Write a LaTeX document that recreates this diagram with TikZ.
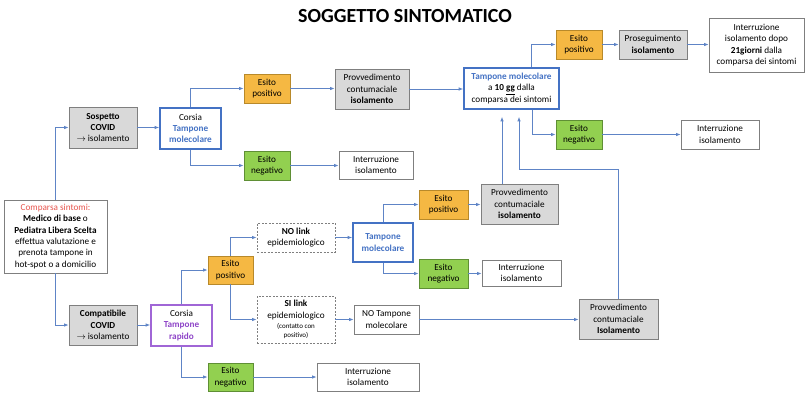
\documentclass[tikz,border=0pt]{standalone}
\usepackage{fontspec}
\setmainfont{Carlito}
\usetikzlibrary{arrows.meta}
\definecolor{lineblue}{HTML}{5E84C6}
\definecolor{boxblue}{HTML}{4472C4}
\definecolor{txtblue}{HTML}{4472C4}
\definecolor{boxpurple}{HTML}{A066D6}
\definecolor{txtpurple}{HTML}{8E44C8}
\definecolor{txtred}{HTML}{E8554E}
\definecolor{orfill}{HTML}{F5B843}
\definecolor{ordraw}{HTML}{B8892A}
\definecolor{grfill}{HTML}{92D050}
\definecolor{grdraw}{HTML}{5F8F35}
\definecolor{gyfill}{HTML}{D9D9D9}
\definecolor{gydraw}{HTML}{7F7F7F}
\tikzset{
  base/.style={draw=gydraw, line width=0.8pt, align=center, inner sep=0pt,
    font=\fontsize{9.2}{11.3}\selectfont, text=black},
  graybox/.style={base, fill=gyfill},
  whitebox/.style={base, fill=white},
  orbox/.style={base, fill=orfill, draw=ordraw},
  grbox/.style={base, fill=grfill, draw=grdraw},
  bluebox/.style={base, fill=white, draw=boxblue, line width=1.7pt},
  purplebox/.style={base, fill=white, draw=boxpurple, line width=1.7pt},
  dashbox/.style={base, fill=white, dash pattern=on 2pt off 1.5pt},
  sz/.style 2 args={minimum width=#1, minimum height=#2},
  arr/.style={draw=lineblue, line width=0.8pt, -{Latex[length=4.5pt,width=3.5pt]}},
}
\begin{document}
\begin{tikzpicture}[x=1pt,y=-1pt]
\useasboundingbox[fill=white] (0,0) rectangle (810,400);
\node (title) at (405,16) {\fontsize{20}{23}\selectfont\bfseries SOGGETTO SINTOMATICO};

% left column
\node[whitebox, sz={103pt}{73pt}] (comp) at (55.5,236.5) {\textcolor{txtred}{Comparsa sintomi:}\\\textbf{Medico di base} o\\\textbf{Pediatra Libera Scelta}\\effettua valutazione e\\prenota tampone in\\hot-spot o a domicilio};
\node[graybox, sz={68pt}{41pt}] (sosp) at (103,127.5) {\textbf{Sospetto}\\\textbf{COVID}\\$\rightarrow$ isolamento};
\node[graybox, sz={68pt}{40pt}] (compat) at (103,325) {\textbf{Compatibile}\\\textbf{COVID}\\$\rightarrow$ isolamento};

% upper branch
\node[bluebox, sz={61pt}{41pt}] (corsM) at (190.5,128.5) {Corsia\\\textcolor{txtblue}{\textbf{Tampone}}\\\textcolor{txtblue}{\textbf{molecolare}}};
\node[orbox, sz={46pt}{29pt}] (posA) at (267,88.5) {Esito\\positivo};
\node[grbox, sz={46pt}{29pt}] (negA) at (267,165.5) {Esito\\negativo};
\node[graybox, sz={74pt}{40pt}] (provA) at (372,89) {Provvedimento\\contumaciale\\\textbf{isolamento}};
\node[whitebox, sz={74pt}{28pt}] (intA) at (376,165) {Interruzione\\isolamento};
\node[bluebox, sz={95pt}{41pt}] (tm10) at (511.5,88.5) {\textcolor{txtblue}{\textbf{Tampone molecolare}}\\a \textbf{10 \underline{gg}} dalla\\comparsa dei sintomi};
\node[orbox, sz={46pt}{29pt}] (posB) at (579,44.5) {Esito\\positivo};
\node[graybox, sz={68pt}{29pt}] (prosB) at (653,44.5) {Proseguimento\\\textbf{isolamento}};
\node[whitebox, sz={95pt}{54pt}] (int21) at (756.5,45) {Interruzione\\isolamento dopo\\\textbf{21giorni} dalla\\comparsa dei sintomi};
\node[grbox, sz={46pt}{29pt}] (negB) at (579,134.5) {Esito\\negativo};
\node[whitebox, sz={78pt}{29pt}] (intB) at (720,134.5) {Interruzione\\isolamento};

% lower branch
\node[purplebox, sz={61pt}{41pt}] (corsR) at (181.5,325.5) {Corsia\\\textcolor{txtpurple}{\textbf{Tampone}}\\\textcolor{txtpurple}{\textbf{rapido}}};
\node[orbox, sz={45pt}{28pt}] (posC) at (230.5,270) {Esito\\positivo};
\node[grbox, sz={45pt}{28pt}] (negC) at (230.5,377) {Esito\\negativo};
\node[whitebox, sz={102pt}{28pt}] (intC) at (368,377) {Interruzione\\isolamento};
\node[dashbox, sz={78pt}{29pt}] (nolink) at (296,237.5) {\textbf{NO link}\\epidemiologico};
\node[dashbox, sz={78pt}{47pt}] (silink) at (296,319.5) {\textbf{SI link}\\epidemiologico\\[-1pt]{\fontsize{7}{8.5}\selectfont (contatto con}\\[-2pt]{\fontsize{7}{8.5}\selectfont positivo)}};
\node[bluebox, sz={60pt}{39pt}] (tmM) at (383,242.5) {\textcolor{txtblue}{\textbf{Tampone}}\\\textcolor{txtblue}{\textbf{molecolare}}};
\node[whitebox, sz={65pt}{29pt}] (notamp) at (386.5,319.5) {NO Tampone\\molecolare};
\node[orbox, sz={49pt}{29pt}] (posD) at (443.5,204.5) {Esito\\positivo};
\node[grbox, sz={49pt}{29pt}] (negD) at (443.5,273.5) {Esito\\negativo};
\node[graybox, sz={77pt}{40pt}] (provD) at (519.5,204) {Provvedimento\\contumaciale\\\textbf{isolamento}};
\node[whitebox, sz={79pt}{26pt}] (intD) at (521.5,273) {Interruzione\\isolamento};
\node[graybox, sz={79pt}{40pt}] (provE) at (618.5,319) {Provvedimento\\contumaciale\\\textbf{Isolamento}};

\coordinate (xa) at (502,0);
\coordinate (bend) at (519,169);

% connectors
\draw[arr] (comp.north) |- (sosp.west);
\draw[arr] (comp.south) |- (compat.west);
\draw[arr] (sosp.east) -- (sosp.east -| corsM.west);
\draw[arr] (corsM.north) |- (posA.west);
\draw[arr] (corsM.south) |- (negA.west);
\draw[arr] (posA.east) -- (posA.east -| provA.west);
\draw[arr] (provA.east) -- (provA.east -| tm10.west);
\draw[arr] (negA.east) -- (negA.east -| intA.west);
\draw[arr] ([xshift=19.5pt]tm10.north) |- (posB.west);
\draw[arr] ([xshift=20.5pt]tm10.south) |- (negB.west);
\draw[arr] (posB.east) -- (posB.east -| prosB.west);
\draw[arr] (prosB.east) -- (prosB.east -| int21.west);
\draw[arr] (negB.east) -- (negB.east -| intB.west);
\draw[arr] (compat.east) -- (compat.east -| corsR.west);
\draw[arr] (corsR.north) |- (posC.west);
\draw[arr] (corsR.south) |- (negC.west);
\draw[arr] (negC.east) -- (negC.east -| intC.west);
\draw[arr] (posC.north) |- (nolink.west);
\draw[arr] (posC.south) |- (silink.west);
\draw[arr] (nolink.east) -- (nolink.east -| tmM.west);
\draw[arr] (silink.east) -- (silink.east -| notamp.west);
\draw[arr] (tmM.north) |- (posD.west);
\draw[arr] (tmM.south) |- (negD.west);
\draw[arr] (posD.east) -- (posD.east -| provD.west);
\draw[arr] (negD.east) -- (negD.east -| intD.west);
\draw[arr] (notamp.east) -- (notamp.east -| provE.west);
\draw[arr, shorten >=7pt] (provD.north -| xa) -- (tm10.south -| xa);
\draw[arr, shorten >=7pt] (provE.north) |- (bend) -- (tm10.south -| bend);
\end{tikzpicture}
\end{document}
